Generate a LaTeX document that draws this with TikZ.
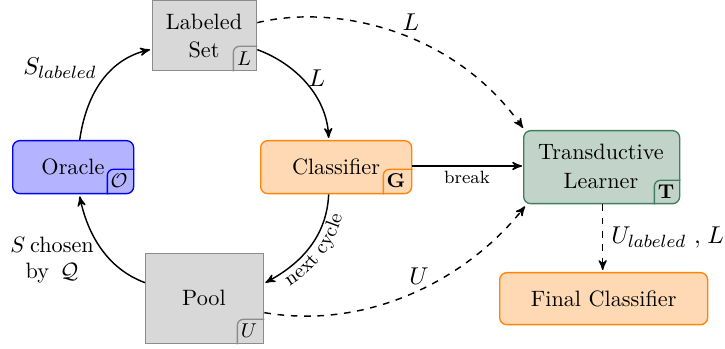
\documentclass[tikz,border=0pt]{standalone}
\usetikzlibrary{arrows,calc,positioning,decorations.text}
\definecolor{gborder}{HTML}{8C8C8C}
\definecolor{gfill}{HTML}{D8D8D8}
\definecolor{bfill}{HTML}{B3B3FF}
\definecolor{bborder}{HTML}{0000F0}
\definecolor{ofill}{HTML}{FFD9B3}
\definecolor{oborder}{HTML}{FF8508}
\definecolor{tfill}{HTML}{C2D4C9}
\definecolor{tborder}{HTML}{3F7F5F}
\tikzset{
  x=0.45pt,y=-0.45pt,
  every node/.style={font=\normalsize},
  box/.style={inner sep=0pt,line width=0.6pt,align=center},
  graybox/.style={box,draw=gborder,fill=gfill},
  bluebox/.style={box,draw=bborder,fill=bfill,rounded corners=3.2pt},
  orangebox/.style={box,draw=oborder,fill=ofill,rounded corners=3.2pt},
  greenbox/.style={box,draw=tborder,fill=tfill,rounded corners=3.2pt},
  size/.style 2 args={minimum width=#1*0.45pt,minimum height=#2*0.45pt},
  badgetext/.style={font=\small,inner sep=0pt},
  conn/.style={->,>=stealth',line width=0.65pt},
  dconn/.style={conn,dashed},
  lbl/.style={inner sep=0pt,align=center},
  biglbl/.style={lbl,font=\fontsize{11}{13}\selectfont},
}
\begin{document}
\begin{tikzpicture}
\useasboundingbox (0,0) rectangle (725,349);
% nodes
\node[graybox,size={104}{70},anchor=north west] (set) at (152,0) {};
\node[lbl,anchor=center] (settext) at (204,36) {Labeled\\[1pt]Set};
\node[bluebox,size={121}{53},anchor=north west] (oracle) at (12,140) {};
\node[lbl] (oracletext) at (73,167) {Oracle};
\node[orangebox,size={151}{53},anchor=north west] (clf) at (260,140) {};
\node[lbl] (clftext) at (336,167) {Classifier};
\node[greenbox,size={156}{73},anchor=north west] (trans) at (523,130) {};
\node[lbl] (transtext) at (601,166) {Transductive\\[1pt]Learner};
\node[orangebox,size={208}{52},anchor=north west] (final) at (499,272) {Final Classifier};
\node[graybox,size={118}{90},anchor=north west] (pool) at (145,253) {};
\node[lbl] (pooltext) at (204,298) {Pool};
% badges
\draw[line width=0.6pt,draw=gborder] (set.south east)++(-24,0) [rounded corners=2.7pt] -- ++(0,-25) -- ++(24,0);
\node[badgetext] (bL) at (244,59) {$L$};
\draw[line width=0.6pt,draw=bborder] (oracle.south east)++(-27,0) [rounded corners=2.7pt] -- ++(0,-25) -- ++(27,0);
\node[badgetext] (bO) at (119,181) {$\mathcal{O}$};
\draw[line width=0.6pt,draw=oborder] (clf.south east)++(-29,0) [rounded corners=2.7pt] -- ++(0,-25) -- ++(29,0);
\node[badgetext] (bG) at (396,181) {$\mathbf{G}$};
\draw[line width=0.6pt,draw=tborder] (trans.south east)++(-26,0) [rounded corners=2.7pt] -- ++(0,-24) -- ++(26,0);
\node[badgetext] (bT) at (666,192) {$\mathbf{T}$};
\draw[line width=0.6pt,draw=gborder] (pool.south east)++(-27,0) [rounded corners=2.7pt] -- ++(0,-25) -- ++(27,0);
\node[badgetext] (bU) at (249,331) {$U$};
% connectors
\draw[conn] ($(oracle.north)+(6.5,0)$) .. controls +(8,-55) and +(-35,8) .. ($(set.west)+(-2,14)$);
\draw[conn] ($(set.east)+(0,14)$) .. controls +(38,14) and +(-2,-42) .. ($(clf.north)+(-7.5,-2)$);
\draw[conn] ($(clf.south)+(-7.5,0)$) .. controls +(-2,45) and +(32,-17) .. ($(pool.east)+(1,-16)$);
\draw[conn] ($(pool.west)+(0,-16)$) .. controls +(-38,-14) and +(8,38) .. ($(oracle.south)+(6.5,2)$);
\draw[dconn] ($(set.east)+(0,-13)$) .. controls +(78,-19) and +(-69,-98) .. ($(trans.north west)+(0,-2)$);
\draw[dconn] ($(pool.east)+(0,14)$) .. controls +(107,18) and +(-55,70) .. ($(trans.south west)+(2,2)$);
\draw[conn] (clf.east |- 0,166) -- ($(trans.west |- 0,166)+(-1,0)$);
\draw[dconn] (trans.south) ++(1,0) -- ($(final.north)+(-1,-2)$);
% labels
\node[biglbl] (l1) at (60,68) {$S_{labeled}$};
\node[biglbl] (l2) at (317,78) {$L$};
\node[lbl] (l3) at (52,260) {$S$\hspace{0.22em}chosen\\by\hspace{0.5em}$\mathcal{Q}$};
\node[biglbl] (l4) at (411,22) {$L$};
\node[biglbl] (l5) at (419,276) {$U$};
\node[lbl] (l6) at (467,177) {\footnotesize break};
\node[biglbl,anchor=west] (l7) at (611,238) {$U_{labeled}\ ,\hspace{-2.5pt}\ L$};
\path[postaction={decorate,decoration={text along path,text align=center,text={|\small|next cycle}}}]
  (283,290) .. controls (315,272) and (337,245) .. (344,208);
\end{tikzpicture}
\end{document}
